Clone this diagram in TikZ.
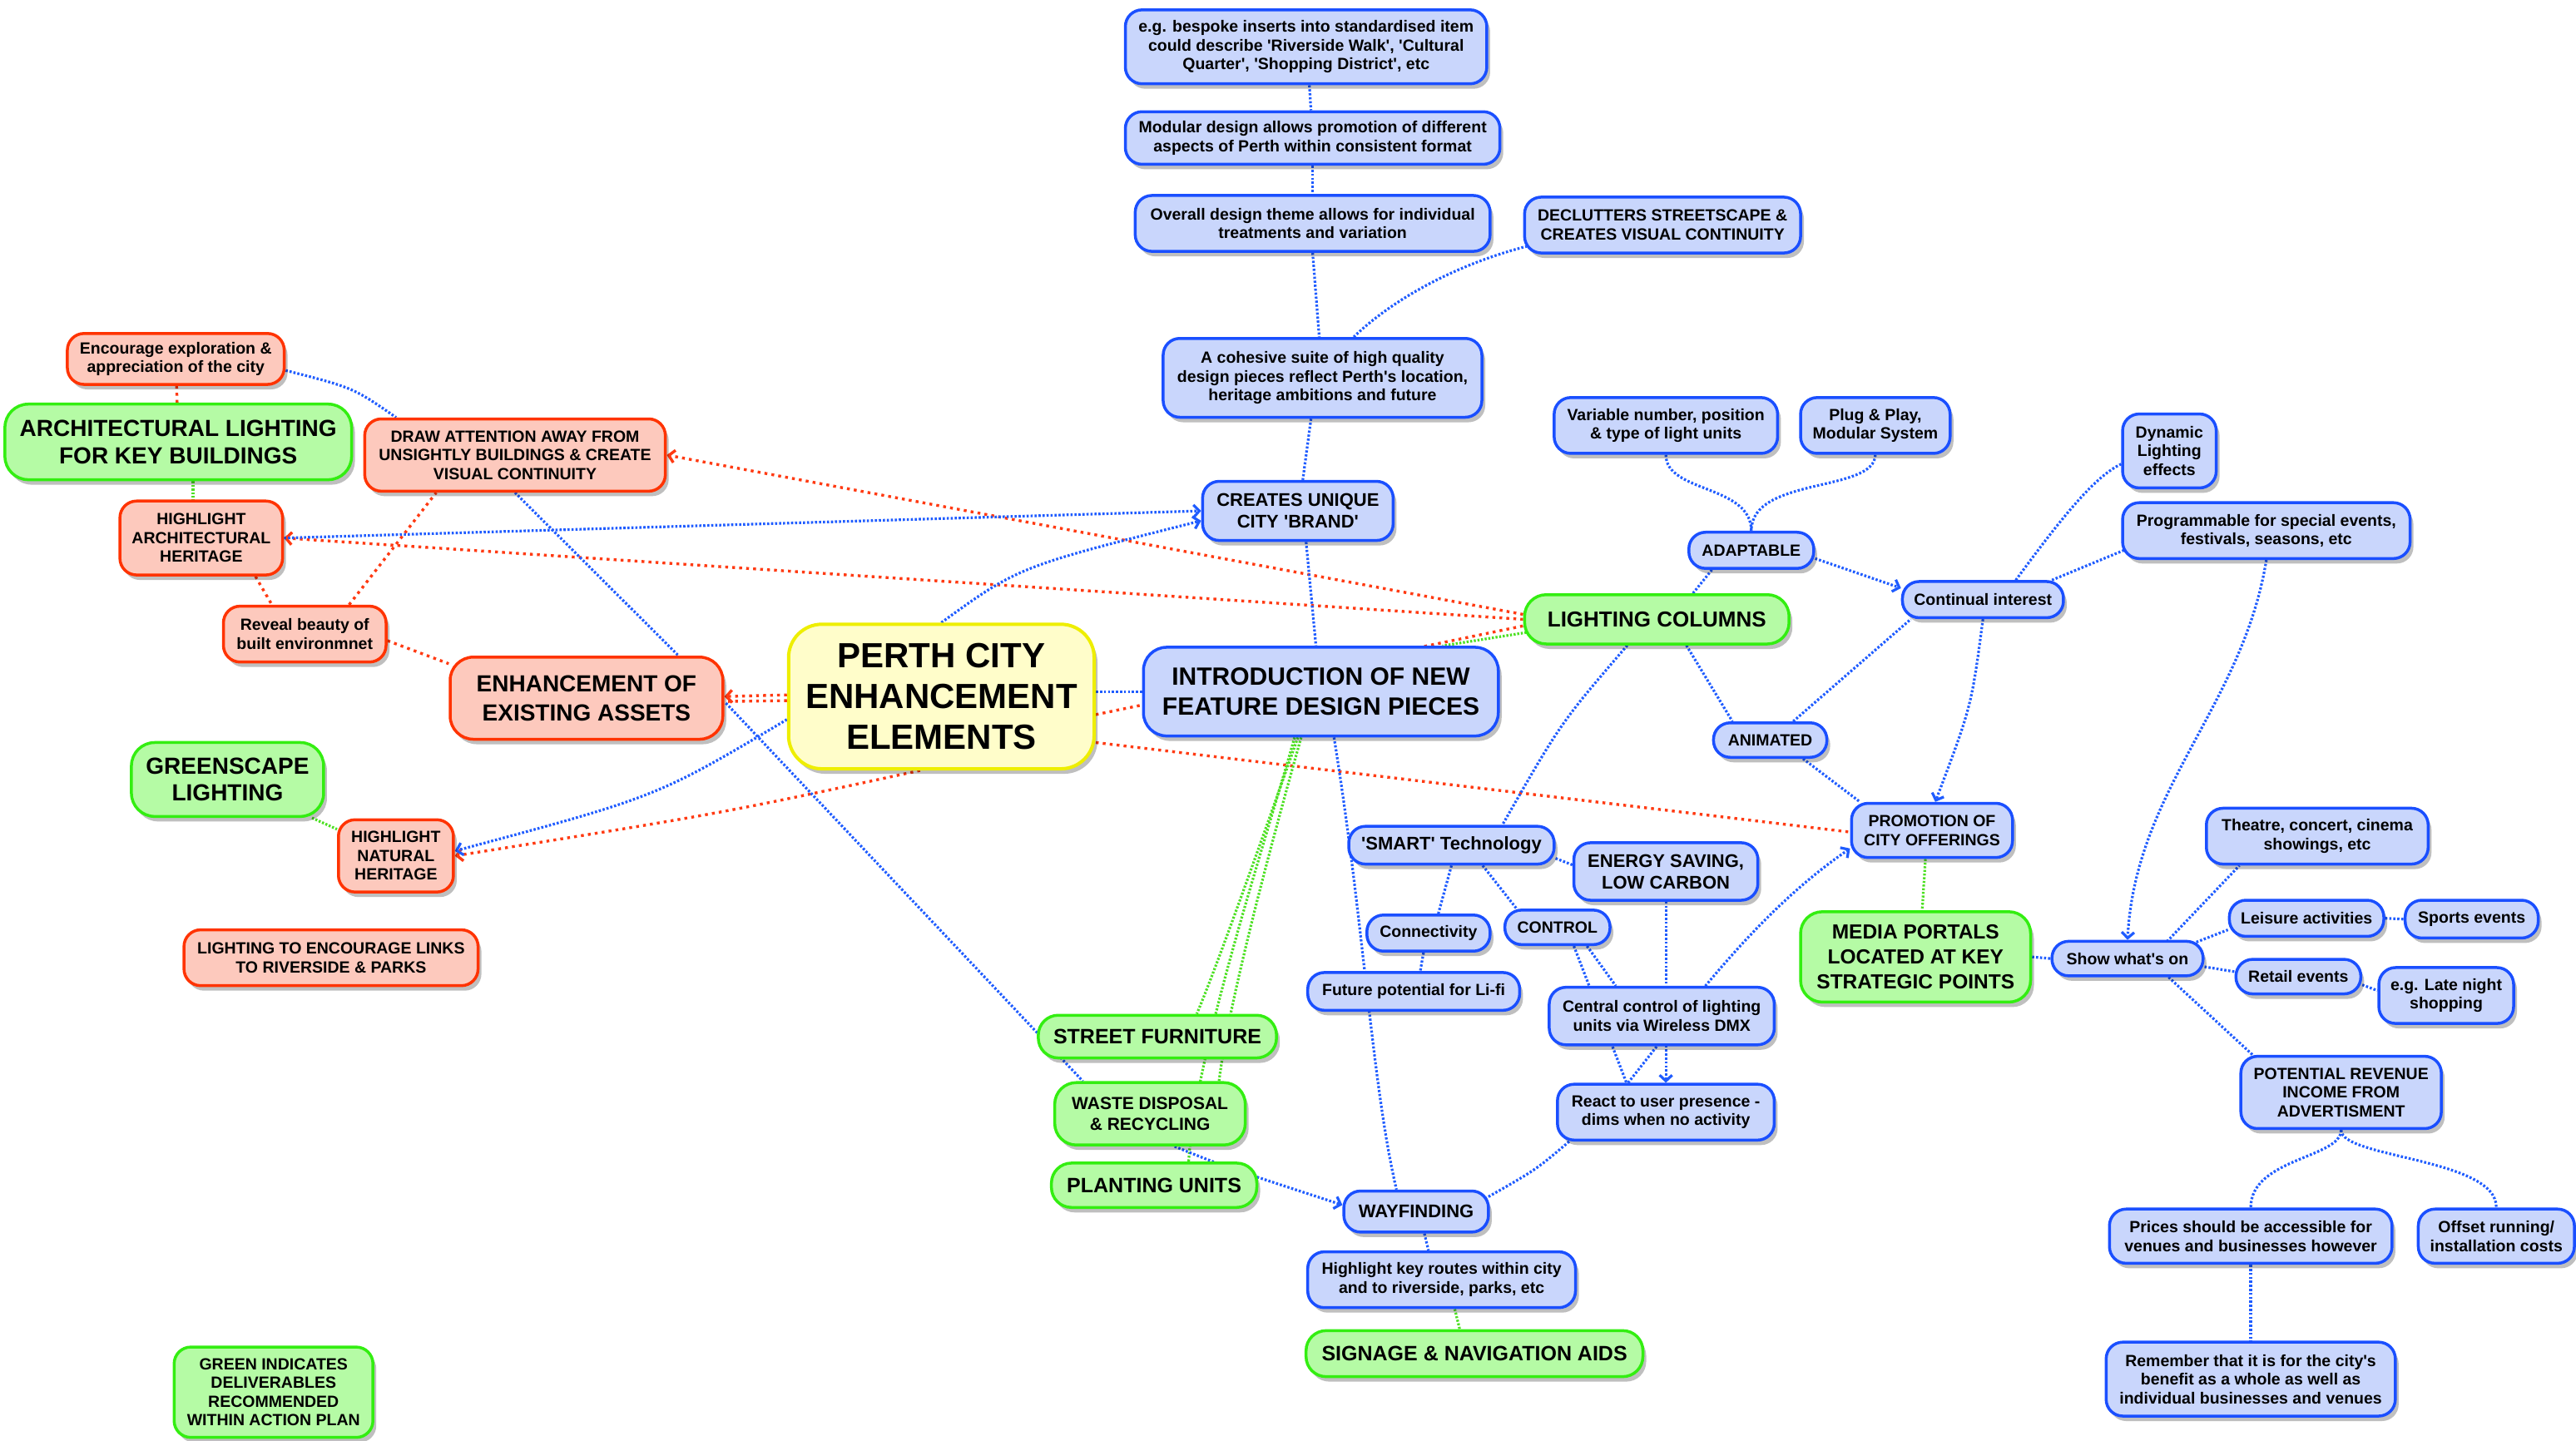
\documentclass[tikz,border=0pt]{standalone}
\usepackage{fontspec}
\setmainfont{Liberation Sans}
\usetikzlibrary{arrows.meta,shadows,backgrounds,calc}
\definecolor{bB}{HTML}{1A4FFF}
\definecolor{bF}{HTML}{C9D6FC}
\definecolor{rB}{HTML}{FF3300}
\definecolor{rF}{HTML}{FDC9BD}
\definecolor{gB}{HTML}{33EE11}
\definecolor{gF}{HTML}{B5FBA5}
\definecolor{yB}{HTML}{EEEE00}
\definecolor{yF}{HTML}{FFFDCA}
\definecolor{lB}{HTML}{1F5CFF}
\definecolor{lR}{HTML}{FF3A12}
\definecolor{lG}{HTML}{4CE022}
\newcommand\fsS{\fontsize{19.5}{22.5}\selectfont}
\newcommand\fsM{\fontsize{22}{26}\selectfont}
\newcommand\fsL{\fontsize{25}{29.5}\selectfont}
\newcommand\fsB{\fontsize{28}{34}\selectfont}
\newcommand\sq{\textquotesingle}
\newcommand\NB[7]{\node[#1,minimum width={(#4-#3)*1.9745pt},minimum height={(#6-#5)*1.9745pt}] (#2) at ({(#3+#4)/2},{(#5+#6)/2}) {#7};}
\begin{document}
\begin{tikzpicture}[x=1.9745pt,y=-1.9745pt,
  base/.style={rounded corners=20pt,line width=3.5pt,align=center,inner sep=2pt,text=black,font=\bfseries\fsS,
    drop shadow={shadow xshift=4pt,shadow yshift=-6pt,opacity=0.25,fill=black}},
  bn/.style={base,draw=bB,fill=bF},
  rn/.style={base,draw=rB,fill=rF},
  gn/.style={base,draw=gB,fill=gF},
  yn/.style={base,draw=yB,fill=yF,rounded corners=40pt,line width=4pt},
  bl/.style={draw=lB,line width=3.2pt,dash pattern=on 2.6pt off 2.2pt},
  rl/.style={draw=lR,line width=3.4pt,dash pattern=on 3.4pt off 5pt},
  gl/.style={draw=lG,line width=3.2pt,dash pattern=on 2.4pt off 2pt},
  arr/.style={-{Straight Barb[length=7pt,width=15pt]}}]
\useasboundingbox (0,0) rectangle (1568,877);

% ---------- red nodes
\NB{rn}{encourage}{41}{173}{203}{234}{Encourage exploration \&\\appreciation of the city}
\NB{rn}{draw}{222}{405}{255}{299}{DRAW ATTENTION AWAY FROM\\UNSIGHTLY BUILDINGS \& CREATE\\VISUAL CONTINUITY}
\NB{rn}{harch}{73}{172}{305}{350}{HIGHLIGHT\\ARCHITECTURAL\\HERITAGE}
\NB{rn}{reveal}{136}{235}{369}{403}{Reveal beauty of\\built environmnet}
\NB{rn,font=\bfseries\fontsize{28}{35.5}\selectfont,rounded corners=28pt}{enhance}{274}{440}{400}{450}{ENHANCEMENT OF\\EXISTING ASSETS}
\NB{rn}{hnat}{206}{276}{499}{543}{HIGHLIGHT\\NATURAL\\HERITAGE}
\NB{rn}{links}{112}{291}{566}{600}{LIGHTING TO ENCOURAGE LINKS\\TO RIVERSIDE \& PARKS}

% ---------- green nodes
\NB{gn,font=\bfseries\fontsize{28}{33.5}\selectfont,rounded corners=28pt}{archl}{3}{214}{246}{292}{ARCHITECTURAL LIGHTING\\FOR KEY BUILDINGS}
\NB{gn,font=\bfseries\fontsize{28}{31.6}\selectfont,rounded corners=28pt}{greensc}{80}{197}{452}{497}{GREENSCAPE\\LIGHTING}
\NB{gn,font=\bfseries\fontsize{26}{30}\selectfont,rounded corners=26pt}{lightcol}{928}{1089}{362}{392}{LIGHTING COLUMNS}
\NB{gn,font=\bfseries\fsL,rounded corners=24pt}{street}{632}{777}{618}{644}{STREET FURNITURE}
\NB{gn,font=\bfseries\fontsize{21}{25.7}\selectfont,rounded corners=26pt}{waste}{642}{758}{659}{697}{WASTE DISPOSAL\\\& RECYCLING}
\NB{gn,font=\bfseries\fsL,rounded corners=24pt}{planting}{640}{765}{708}{735}{PLANTING UNITS}
\NB{gn,font=\bfseries\fontsize{24.5}{29.6}\selectfont,rounded corners=26pt}{media}{1096}{1236}{555}{610}{MEDIA PORTALS\\LOCATED AT KEY\\STRATEGIC POINTS}
\NB{gn,font=\bfseries\fsL,rounded corners=24pt}{signage}{795}{1000}{810}{838}{SIGNAGE \& NAVIGATION AIDS}
\NB{gn}{legend}{106}{227}{820}{875}{GREEN INDICATES\\DELIVERABLES\\RECOMMENDED\\WITHIN ACTION PLAN}

% ---------- centre
\NB{yn,font=\bfseries\fontsize{42}{49}\selectfont}{perth}{480}{666}{380}{468}{PERTH CITY\\ENHANCEMENT\\ELEMENTS}

% ---------- blue nodes
\NB{bn}{bespoke}{685}{905}{6}{51}{e.g. bespoke inserts into standardised item\\could describe \sq Riverside Walk\sq, \sq Cultural\\Quarter\sq, \sq Shopping District\sq, etc}
\NB{bn}{modular}{685}{913}{68}{100}{Modular design allows promotion of different\\aspects of Perth within consistent format}
\NB{bn}{overall}{691}{907}{119}{153}{Overall design theme allows for individual\\treatments and variation}
\NB{bn}{declutter}{928}{1096}{120}{154}{DECLUTTERS STREETSCAPE \&\\CREATES VISUAL CONTINUITY}
\NB{bn}{cohesive}{708}{902}{206}{254}{A cohesive suite of high quality\\design pieces reflect Perth\sq s location,\\heritage ambitions and future}
\NB{bn,font=\bfseries\fsM}{brand}{732}{848}{293}{329}{CREATES UNIQUE\\CITY \sq BRAND\sq}
\NB{bn,font=\bfseries\fontsize{30}{35.5}\selectfont,rounded corners=28pt}{intro}{696}{912}{394}{448}{INTRODUCTION OF NEW\\FEATURE DESIGN PIECES}
\NB{bn}{variable}{946}{1082}{242}{276}{Variable number, position\\\& type of light units}
\NB{bn}{plug}{1096}{1187}{242}{276}{Plug \& Play,\\Modular System}
\NB{bn}{dynamic}{1292}{1349}{252}{297}{Dynamic\\Lighting\\effects}
\NB{bn}{programmable}{1292}{1467}{306}{340}{Programmable for special events,\\festivals, seasons, etc}
\NB{bn}{adaptable}{1028}{1104}{324}{346}{ADAPTABLE}
\NB{bn}{continual}{1158}{1256}{354}{376}{Continual interest}
\NB{bn}{animated}{1043}{1112}{440}{461}{ANIMATED}
\NB{bn}{promotion}{1127}{1225}{489}{522}{PROMOTION OF\\CITY OFFERINGS}
\NB{bn,font=\bfseries\fsM}{smart}{821}{946}{503}{526}{\sq SMART\sq\ Technology}
\NB{bn,font=\bfseries\fsM}{energy}{958}{1070}{513}{548}{ENERGY SAVING,\\LOW CARBON}
\NB{bn}{connectivity}{832}{907}{557}{579}{Connectivity}
\NB{bn}{control}{916}{980}{554}{575}{CONTROL}
\NB{bn}{lifi}{796}{925}{592}{615}{Future potential for Li-fi}
\NB{bn}{central}{943}{1080}{601}{636}{Central control of lighting\\units via Wireless DMX}
\NB{bn}{react}{948}{1080}{660}{694}{React to user presence -\\dims when no activity}
\NB{bn,font=\bfseries\fsM}{wayfinding}{818}{906}{725}{750}{WAYFINDING}
\NB{bn}{routes}{796}{959}{762}{796}{Highlight key routes within city\\and to riverside, parks, etc}
\NB{bn}{showwhat}{1249}{1341}{573}{594}{Show what\sq s on}
\NB{bn}{theatre}{1343}{1478}{492}{526}{Theatre, concert, cinema\\showings, etc}
\NB{bn}{leisure}{1357}{1451}{548}{570}{Leisure activities}
\NB{bn}{sports}{1464}{1545}{548}{571}{Sports events}
\NB{bn}{retail}{1361}{1437}{584}{605}{Retail events}
\NB{bn}{latenight}{1448}{1530}{589}{623}{e.g. Late night\\shopping}
\NB{bn}{potential}{1364}{1486}{643}{687}{POTENTIAL REVENUE\\INCOME FROM\\ADVERTISMENT}
\NB{bn}{prices}{1284}{1456}{736}{769}{Prices should be accessible for\\venues and businesses however}
\NB{bn}{offset}{1472}{1567}{736}{769}{Offset running/\\installation costs}
\NB{bn}{remember}{1282}{1458}{817}{862}{Remember that it is for the city\sq s\\benefit as a whole as well as\\individual businesses and venues}

\begin{pgfonlayer}{background}
\fill[white] (0,0) rectangle (1568,877);
% ---------- red connectors
\draw[rl] (encourage) -- (archl);
\draw[rl] ($(harch.south)+(33,0)$) -- ($(reveal.north)+(-20,0)$);
\draw[rl] ($(reveal.north)+(27,0)$) -- ($(draw.south)+(-48,0)$);
\draw[rl] ($(reveal.east)+(0,4)$) -- ($(enhance.west)+(0,-21)$);
\draw[rl,arr] ($(lightcol.west)+(0,-3)$) -- (draw.east);
\draw[rl,arr] (lightcol.west) -- (harch.east);
\draw[rl] ($(perth.east)+(0,11)$) -- ($(lightcol.west)+(0,4)$);
\draw[rl] ($(perth.east)+(0,28)$) -- ($(promotion.west)+(0,1)$);
\draw[rl,arr] ($(perth.south)+(-13,0)$) .. controls (440,495) .. (hnat.east);
\draw[rl,arr] ($(perth.west)+(0,-1)$) -- ($(enhance.east)+(0,-1)$);
\draw[rl] ($(perth.west)+(0,2.5)$) -- ($(enhance.east)+(0,2)$);
% ---------- green connectors
\draw[gl] ($(archl.south)+(9,0)$) -- ($(harch.north)+(-5,0)$);
\draw[gl] (greensc) -- (hnat);
\draw[gl] ($(intro.south)+(-14,0)$) .. controls (765,520) and (740,590) .. ($(street.north)+(24,0)$);
\draw[gl] ($(intro.south)+(-12,0)$) .. controls (772,520) and (748,610) .. ($(waste.north)+(42,0)$);
\draw[gl] ($(intro.south)+(-16,0)$) .. controls (768,520) and (728,640) .. ($(planting.north)+(21,0)$);
\draw[gl] ($(lightcol.west)+(2,8)$) -- ($(intro.north)+(74,0)$);
\draw[gl] ($(promotion.south)+(-4,0)$) -- ($(media.north)+(4,0)$);
\draw[gl] ($(routes.south)+(8,0)$) -- ($(signage.north)+(-9,0)$);
% ---------- blue connectors
\draw[bl] ($(encourage.east)+(0,7)$) .. controls (215,236) .. ($(draw.north west)+(20,0)$);
\draw[bl] (draw.south) -- ($(enhance.north)+(56,0)$);
\draw[bl,arr] (harch.east) -- (brand.west);
\draw[bl,arr] (perth.north) .. controls (620,345) .. ($(brand.west)+(0,6)$);
\draw[bl,arr] ($(perth.west)+(0,14)$) .. controls (400,485) .. ($(hnat.east)+(0,-3)$);
\draw[bl] ($(enhance.east)+(1,3)$) -- ($(waste.north west)+(18,0)$);
\draw[bl,arr] ($(waste.south)+(15,0)$) .. controls (745,710) .. ($(wayfinding.west)+(0,-4)$);
\draw[bl] (intro.west) -- (intro.west -| perth.east);
\draw[bl] ($(brand.south)+(5,0)$) -- ($(intro.north)+(-3,0)$);
\draw[bl] ($(cohesive.south)+(-7,0)$) -- ($(brand.north)+(3,0)$);
\draw[bl] (overall.south) -- ($(cohesive.north)+(-2,0)$);
\draw[bl] (modular.south) -- (overall.north);
\draw[bl] ($(bespoke.south)+(2,0)$) -- ($(modular.north)+(-1,0)$);
\draw[bl] ($(cohesive.north)+(19,0)$) .. controls (850,180) and (890,160) .. ($(declutter.west)+(2,13)$);
\draw[bl] ($(intro.south)+(8,0)$) .. controls (830,560) and (835,660) .. ($(wayfinding.north)+(-12,0)$);
\draw[bl] ($(lightcol.south)+(-18,0)$) .. controls (950,440) .. ($(smart.north)+(31,0)$);
\draw[bl] ($(lightcol.north)+(22,0)$) -- ($(adaptable.south)+(-24,0)$);
\draw[bl] (variable.south) .. controls (1014,300) and (1066,295) .. (adaptable.north);
\draw[bl] (plug.south) .. controls (1141,300) and (1066,290) .. (adaptable.north);
\draw[bl,arr] ($(adaptable.east)+(0,5)$) -- ($(continual.west)+(0,-7)$);
\draw[bl] ($(lightcol.south)+(18,0)$) -- ($(animated.north)+(-23,0)$);
\draw[bl] ($(animated.north)+(14,0)$) -- ($(continual.south west)+(6,0)$);
\draw[bl] ($(animated.south)+(20,0)$) -- ($(promotion.north west)+(6,0)$);
\draw[bl,arr] (continual.south) .. controls (1200,430) .. ($(promotion.north)+(2,0)$);
\draw[bl] ($(continual.north)+(20,0)$) .. controls (1255,315) and (1275,290) .. ($(dynamic.west)+(0,8)$);
\draw[bl] ($(continual.north)+(42,0)$) -- ($(programmable.west)+(4,11)$);
\draw[bl,arr] (programmable.south) .. controls (1365,430) and (1300,480) .. (showwhat.north);
\draw[bl] (media.east) -- (showwhat.west);
\draw[bl] ($(showwhat.north)+(24,1)$) -- ($(theatre.south west)+(21,0)$);
\draw[bl] ($(showwhat.east)+(-5,-10)$) -- ($(leisure.west)+(0,7)$);
\draw[bl] (leisure.east) -- (sports.west);
\draw[bl] ($(showwhat.east)+(0,5)$) -- ($(retail.west)+(0,-3)$);
\draw[bl] ($(retail.east)+(0,5)$) -- ($(latenight.west)+(0,-3)$);
\draw[bl] ($(showwhat.south)+(25,0)$) -- ($(potential.north west)+(8,0)$);
\draw[bl] (potential.south) .. controls (1425,705) and (1370,705) .. (prices.north);
\draw[bl] (potential.south) .. controls (1425,705) and (1520,705) .. (offset.north);
\draw[bl] (prices.south) -- (remember.north);
\draw[bl] ($(smart.east)+(0,8)$) -- ($(energy.west)+(0,-4)$);
\draw[bl] (smart.south) -- ($(connectivity.north)+(6,0)$);
\draw[bl] ($(connectivity.south)+(-3,0)$) -- ($(lifi.north)+(4,0)$);
\draw[bl] ($(smart.south)+(19,0)$) -- ($(control.north west)+(8,0)$);
\draw[bl] ($(control.south)+(18,0)$) -- ($(central.north)+(-28,0)$);
\draw[bl] ($(control.south)+(10,0)$) -- ($(react.north)+(-24,0)$);
\draw[bl,arr] (energy.south) -- (react.north);
\draw[bl,arr] ($(react.north)+(-23,0)$) .. controls (1030,610) and (1070,555) .. ($(promotion.west)+(0,11)$);
\draw[bl] ($(react.south west)+(8,0)$) .. controls (935,712) .. ($(wayfinding.north east)+(-2,5)$);
\draw[bl] ($(wayfinding.south)+(5,0)$) -- ($(routes.north)+(-8,0)$);
\end{pgfonlayer}
\end{tikzpicture}
\end{document}
